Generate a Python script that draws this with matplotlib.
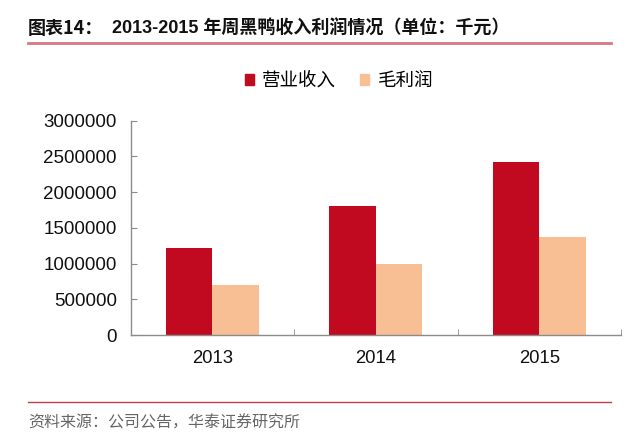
import matplotlib
matplotlib.use("Agg")
import matplotlib.pyplot as plt
import numpy as np
from matplotlib.patches import Rectangle
from matplotlib.lines import Line2D

plt.rcParams['font.family'] = ['Liberation Sans', 'Noto Sans CJK SC', 'DejaVu Sans']

years = ['2013', '2014', '2015']
revenue = [1217000, 1805000, 2426000]
gross_profit = [698000, 988000, 1374000]
series_names = ['营业收入', '毛利润']
yticks = [0, 500000, 1000000, 1500000, 2000000, 2500000, 3000000]

RED = '#C10A1F'
PEACH = '#F8BF94'
AXC = '#8C8C8C'

fig = plt.figure(figsize=(6.4, 4.47), dpi=100)
ax = fig.add_axes([130.6/640, 1-335/447, (621-130.6)/640, (335-120.5)/447])

x = np.arange(len(years))
w = 0.284
ax.bar(x - w/2, revenue, w, color=RED, label=series_names[0])
ax.bar(x + w/2, gross_profit, w, color=PEACH, label=series_names[1])

ax.set_xlim(-0.5, len(years) - 0.5)
ax.set_ylim(0, 3000000)
ax.set_yticks(yticks)
ax.set_yticklabels([str(v) for v in yticks])
ax.set_xticks(x)
ax.set_xticklabels(years)
ax.set_xticks(np.arange(-0.5, len(years), 1.0), minor=True)

for s in ['top', 'right']:
    ax.spines[s].set_visible(False)
for s in ['left', 'bottom']:
    ax.spines[s].set_color(AXC)
    ax.spines[s].set_linewidth(1.0)

ax.tick_params(axis='y', direction='in', length=4, color=AXC, labelsize=13.5,
               labelcolor='#111111', pad=10)
ax.tick_params(axis='x', which='major', length=0, labelsize=13.3, labelcolor='#111111', pad=11)
ax.tick_params(axis='x', which='minor', direction='in', length=4, color=AXC)

# legend
handles = [Rectangle((0, 0), 1, 1, color=RED), Rectangle((0, 0), 1, 1, color=PEACH)]
leg = fig.legend(handles, series_names, loc='center', bbox_to_anchor=(339/640, 1-81/447),
                 ncol=2, frameon=False, handlelength=0.5, handleheight=0.5,
                 handletextpad=0.45, columnspacing=1.3,
                 prop={'family': ['Noto Sans CJK SC'], 'size': 13.3})

# title
fig.text(28/640, 1-29/447, '图表14：', fontsize=13, fontweight='bold',
         family=['Noto Sans CJK SC'], va='center', ha='left', color='#111111')
fig.text(112/640, 1-29/447, '2013-2015 年周黑鸭收入利润情况（单位：千元）', fontsize=13,
         fontweight='bold', family=['Liberation Sans', 'Noto Sans CJK SC'],
         va='center', ha='left', color='#111111')
fig.add_artist(Line2D([28/640, 611/640], [1-42.5/447, 1-42.5/447], color='#D9777F', lw=2.0))

# footer
fig.add_artist(Line2D([28/640, 611/640], [1-402/447, 1-402/447], color='#C83A46', lw=1.0))
fig.text(28/640, 1-423/447, '资料来源：公司公告，华泰证券研究所', fontsize=11.5,
         family=['Noto Sans CJK SC'], va='center', ha='left', color='#666666')

fig.savefig('out.png', dpi=100)
